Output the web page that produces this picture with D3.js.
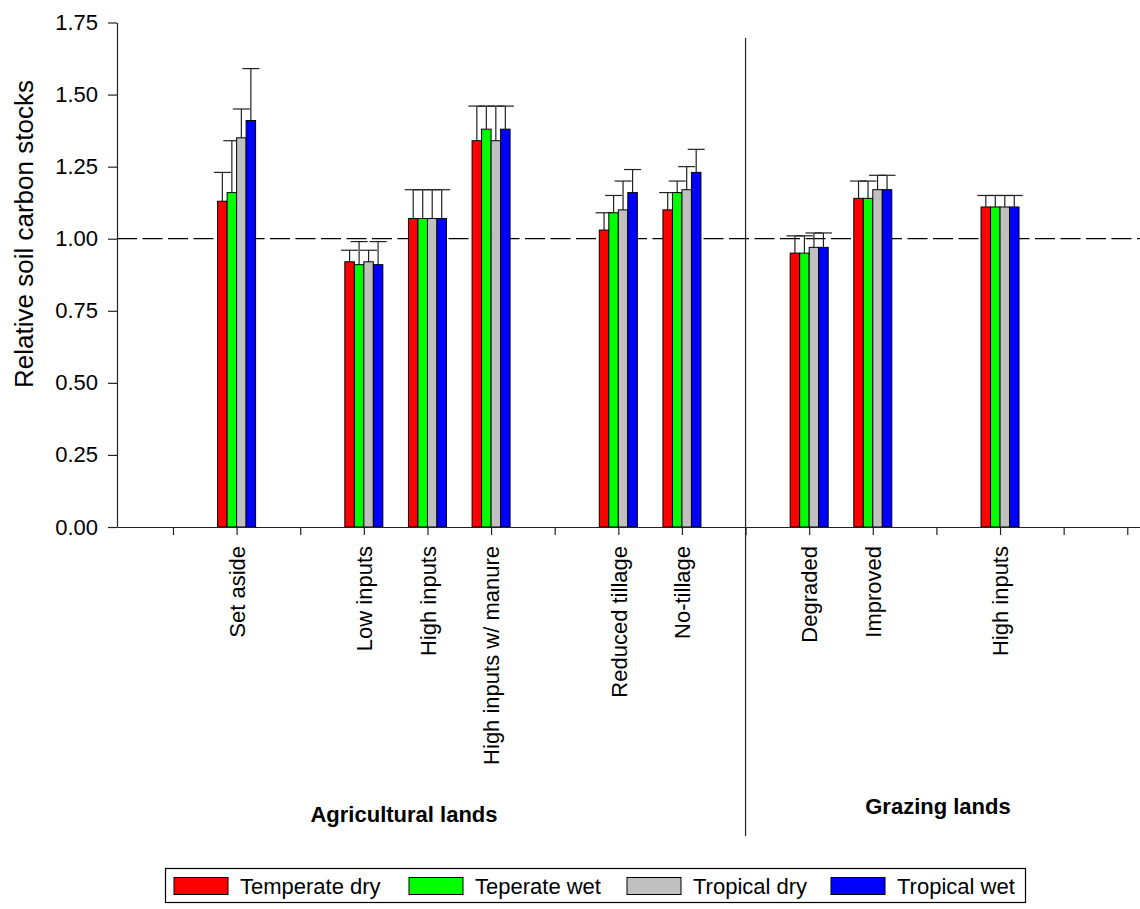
<!DOCTYPE html>
<html>
<head>
<meta charset="utf-8">
<script src="https://cdn.jsdelivr.net/npm/d3@7"></script>
<style>
  html, body { margin: 0; padding: 0; background: #fff; }
  svg { display: block; font-family: "Liberation Sans", Arial, sans-serif; }
</style>
</head>
<body>
<svg id="chart" width="1140" height="909"></svg>
<script>
// ---- data ----
const categories = ["Set aside", "Low inputs", "High inputs", "High inputs w/ manure",
                    "Reduced tillage", "No-tillage", "Degraded", "Improved", "High inputs"];
const categoryPositions = [1, 3, 4, 5, 7, 8, 10, 11, 13];
const seriesNames = ["Temperate dry", "Teperate wet", "Tropical dry", "Tropical wet"];
const seriesColors = ["#ff0000", "#00ff00", "#c0c0c0", "#0000ff"];

const temperateDry = [1.13, 0.92, 1.07, 1.34, 1.03, 1.10, 0.95, 1.14, 1.11];
const temperateWet = [1.16, 0.91, 1.07, 1.38, 1.09, 1.16, 0.95, 1.14, 1.11];
const tropicalDry  = [1.35, 0.92, 1.07, 1.34, 1.10, 1.17, 0.97, 1.17, 1.11];
const tropicalWet  = [1.41, 0.91, 1.07, 1.38, 1.16, 1.23, 0.97, 1.17, 1.11];

const temperateDryErr = [0.10, 0.04, 0.10, 0.12, 0.06, 0.06, 0.06, 0.06, 0.04];
const temperateWetErr = [0.18, 0.08, 0.10, 0.08, 0.06, 0.04, 0.06, 0.06, 0.04];
const tropicalDryErr  = [0.10, 0.04, 0.10, 0.12, 0.10, 0.08, 0.05, 0.05, 0.04];
const tropicalWetErr  = [0.18, 0.08, 0.10, 0.08, 0.08, 0.08, 0.05, 0.05, 0.04];

const yTicks = [0, 0.25, 0.5, 0.75, 1.0, 1.25, 1.5, 1.75];
const tickIndices = d3.range(0, 16);
const separatorPosition = 9;
const groupLabels = [
  { text: "Agricultural lands", x: 404, y: 822 },
  { text: "Grazing lands", x: 938, y: 814 }
];

const seriesValues = [temperateDry, temperateWet, tropicalDry, tropicalWet];
const seriesErrors = [temperateDryErr, temperateWetErr, tropicalDryErr, tropicalWetErr];

// ---- layout ----
const svg = d3.select("#chart");
const plotLeft = 117, plotRight = 1140, plotTop = 22.5, plotBottom = 527;
const fontSize = 22;

const x = d3.scaleLinear().domain([-0.88, 15.2]).range([plotLeft, plotRight]);
const y = d3.scaleLinear().domain([0, 1.75]).range([plotBottom, plotTop]);
const barW = 9.5;
const inner = d3.scaleBand().domain(d3.range(4)).range([-2 * barW, 2 * barW]).padding(0);

// reference dashed line at 1.0
svg.append("line")
  .attr("x1", plotLeft).attr("x2", plotRight)
  .attr("y1", y(1)).attr("y2", y(1))
  .attr("stroke", "#000").attr("stroke-width", 1.3)
  .attr("stroke-dasharray", "20,5.5");

// bars
categories.forEach((c, i) => {
  const cx = x(categoryPositions[i]);
  seriesValues.forEach((vals, s) => {
    const bx = cx + inner(s);
    const v = vals[i];
    const e = seriesErrors[s][i];
    const bcx = bx + barW / 2;
    svg.append("line")
      .attr("x1", bcx).attr("x2", bcx)
      .attr("y1", y(v)).attr("y2", y(v + e))
      .attr("stroke", "#222").attr("stroke-width", 1.2);
    svg.append("line")
      .attr("x1", bcx - 8.5).attr("x2", bcx + 8.5)
      .attr("y1", y(v + e)).attr("y2", y(v + e))
      .attr("stroke", "#222").attr("stroke-width", 1.2);
    svg.append("rect")
      .attr("x", bx).attr("y", y(v))
      .attr("width", barW).attr("height", y(0) - y(v))
      .attr("fill", seriesColors[s])
      .attr("stroke", "#000").attr("stroke-width", 1);
  });
});

// y axis
const yAxis = d3.axisLeft(y).tickValues(yTicks).tickFormat(d3.format(".2f"))
  .tickSize(9).tickSizeOuter(0).tickPadding(10);
const gy = svg.append("g").attr("transform", `translate(${plotLeft},0)`).call(yAxis);
gy.selectAll("text").attr("font-size", fontSize).attr("fill", "#000")
  .attr("font-family", "Liberation Sans, Arial, sans-serif");
gy.selectAll("line, path").attr("stroke", "#222").attr("stroke-width", 1.2);

// x axis
const labelByIndex = {};
categoryPositions.forEach((p, i) => labelByIndex[p] = categories[i]);
const xAxis = d3.axisBottom(x).tickValues(tickIndices)
  .tickFormat(d => labelByIndex[d] || "")
  .tickSize(8).tickSizeOuter(0);
const gx = svg.append("g").attr("transform", `translate(0,${plotBottom})`).call(xAxis);
gx.selectAll("line, path").attr("stroke", "#222").attr("stroke-width", 1.2);
gx.selectAll("text")
  .attr("font-size", fontSize).attr("fill", "#000")
  .attr("font-family", "Liberation Sans, Arial, sans-serif")
  .attr("text-anchor", "end")
  .attr("transform", "rotate(-90)")
  .attr("x", -19).attr("y", 0).attr("dy", "0.35em");

// separator
svg.append("line")
  .attr("x1", x(separatorPosition)).attr("x2", x(separatorPosition))
  .attr("y1", 38).attr("y2", 836)
  .attr("stroke", "#222").attr("stroke-width", 1.2);

// y title
svg.append("text")
  .attr("transform", `translate(33,234) rotate(-90)`)
  .attr("text-anchor", "middle")
  .attr("font-size", 26)
  .text("Relative soil carbon stocks");

// group labels
groupLabels.forEach(g => {
  svg.append("text")
    .attr("x", g.x).attr("y", g.y)
    .attr("text-anchor", "middle")
    .attr("font-size", 22).attr("font-weight", "bold")
    .text(g.text);
});

// legend
const legend = svg.append("g");
legend.append("rect")
  .attr("x", 165.5).attr("y", 868.5).attr("width", 860).attr("height", 34)
  .attr("fill", "#fff").attr("stroke", "#000").attr("stroke-width", 1.2);
const legendSwatchX = [174, 409, 627, 831];
seriesNames.forEach((n, i) => {
  legend.append("rect")
    .attr("x", legendSwatchX[i]).attr("y", 877.5)
    .attr("width", 54).attr("height", 17)
    .attr("fill", seriesColors[i]).attr("stroke", "#000").attr("stroke-width", 1);
  legend.append("text")
    .attr("x", legendSwatchX[i] + 66).attr("y", 886).attr("dy", "0.35em")
    .attr("font-size", fontSize)
    .text(n);
});
</script>
</body>
</html>
